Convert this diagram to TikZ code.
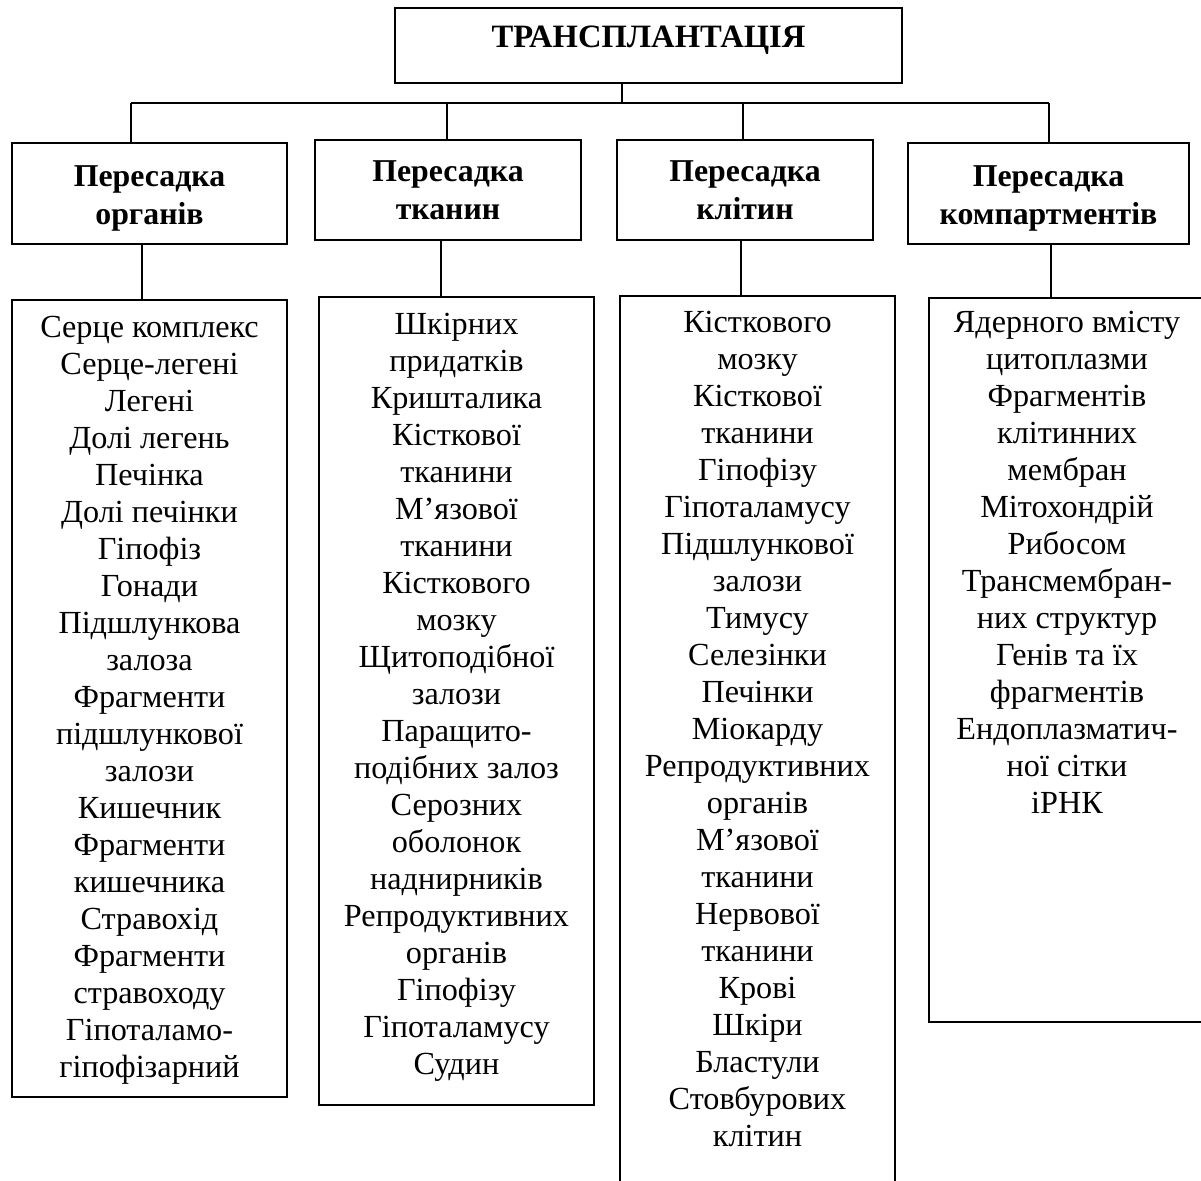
\documentclass[tikz,border=0pt]{standalone}
\usepackage{fontspec}
\setmainfont{Liberation Serif}
\begin{document}
\begin{tikzpicture}[x=0.5pt,y=-0.5pt,
  every node/.style={inner sep=0pt, outer sep=0pt},
  frame/.style={draw, line width=1pt},
  link/.style={line width=1pt},
  headtxt/.style={anchor=north, align=center, font=\fontsize{15.9}{18.85}\selectfont\bfseries},
  txt/.style={anchor=north, align=center, font=\fontsize{16.1}{18.5}\selectfont}]
\useasboundingbox (0,0) rectangle (1201,1180);
% title
\node[frame, minimum width=253.5pt, minimum height=37.5pt, text height=2pt, text depth=0pt,
      font=\fontsize{16.3}{19}\selectfont\bfseries] (title) at (648.5,45) {ТРАНСПЛАНТАЦІЯ};
% heading frames
\node[frame, minimum width=137.5pt, minimum height=50.5pt] (h1) at (149.5,193.5) {};
\node[frame, minimum width=133pt, minimum height=50pt] (h2) at (448,189.5) {};
\node[frame, minimum width=128pt, minimum height=50pt] (h3) at (745,189.5) {};
\node[frame, minimum width=140.5pt, minimum height=50.5pt] (h4) at (1048.5,193.5) {};
% heading texts
\node[headtxt] (ht1) at (h1.center |- 0,160.6) {\strut Пересадка\\органів};
\node[headtxt] (ht2) at (h2.center |- 0,155.6) {\strut Пересадка\\тканин};
\node[headtxt] (ht3) at (h3.center |- 0,155.6) {\strut Пересадка\\клітин};
\node[headtxt] (ht4) at (h4.center |- 0,160.6) {\strut Пересадка\\компартментів};
% content frames
\node[frame, minimum width=137.5pt, minimum height=398.5pt] (c1) at (149.5,698.5) {};
\node[frame, minimum width=137.5pt, minimum height=404pt] (c2) at (456.5,701) {};
\node[frame, minimum width=137.5pt, minimum height=472pt] (c3) at (757.5,768) {};
\node[frame, minimum width=138pt, minimum height=362pt] (c4) at (1067,660) {};
% content texts
\node[txt] (t1) at (149.5,311.1) {\strut Серце комплекс\\Серце-легені\\Легені\\Долі легень\\Печінка\\Долі печінки\\Гіпофіз\\Гонади\\Підшлункова\\залоза\\Фрагменти\\підшлункової\\залози\\Кишечник\\Фрагменти\\кишечника\\Стравохід\\Фрагменти\\стравоходу\\Гіпоталамо-\\гіпофізарний};
\node[txt] (t2) at (456.5,308.1) {\strut Шкірних\\придатків\\Кришталика\\Кісткової\\тканини\\М’язової\\тканини\\Кісткового\\мозку\\Щитоподібної\\залози\\Паращито-\\подібних залоз\\Серозних\\оболонок\\наднирників\\Репродуктивних\\органів\\Гіпофізу\\Гіпоталамусу\\Судин};
\node[txt] (t3) at (757.5,306.1) {\strut Кісткового\\мозку\\Кісткової\\тканини\\Гіпофізу\\Гіпоталамусу\\Підшлункової\\залози\\Тимусу\\Селезінки\\Печінки\\Міокарду\\Репродуктивних\\органів\\М’язової\\тканини\\Нервової\\тканини\\Крові\\Шкіри\\Бластули\\Стовбурових\\клітин};
\node[txt] (t4) at (1067,306.1) {\strut Ядерного вмісту\\цитоплазми\\Фрагментів\\клітинних\\мембран\\Мітохондрій\\Рибосом\\Трансмембран-\\них структур\\Генів та їх\\фрагментів\\Ендоплазматич-\\ної сітки\\іРНК};
% connectors
\coordinate (j0) at (622,103);
\coordinate (b1) at (131,103);
\coordinate (b2) at (447,103);
\coordinate (b3) at (743,103);
\coordinate (b4) at (1049,103);
\draw[link] (j0 |- title.south) -- (j0);
\draw[link] (b1) -- (b4);
\draw[link] (b1) -- (b1 |- h1.north);
\draw[link] (b2) -- (b2 |- h2.north);
\draw[link] (b3) -- (b3 |- h3.north);
\draw[link] (b4) -- (b4 |- h4.north);
\coordinate (s1) at (142,244);
\coordinate (s2) at (441,240);
\coordinate (s3) at (741,240);
\coordinate (s4) at (1051,244);
\draw[link] (s1 |- h1.south) -- (s1 |- c1.north);
\draw[link] (s2 |- h2.south) -- (s2 |- c2.north);
\draw[link] (s3 |- h3.south) -- (s3 |- c3.north);
\draw[link] (s4 |- h4.south) -- (s4 |- c4.north);
\end{tikzpicture}
\end{document}
